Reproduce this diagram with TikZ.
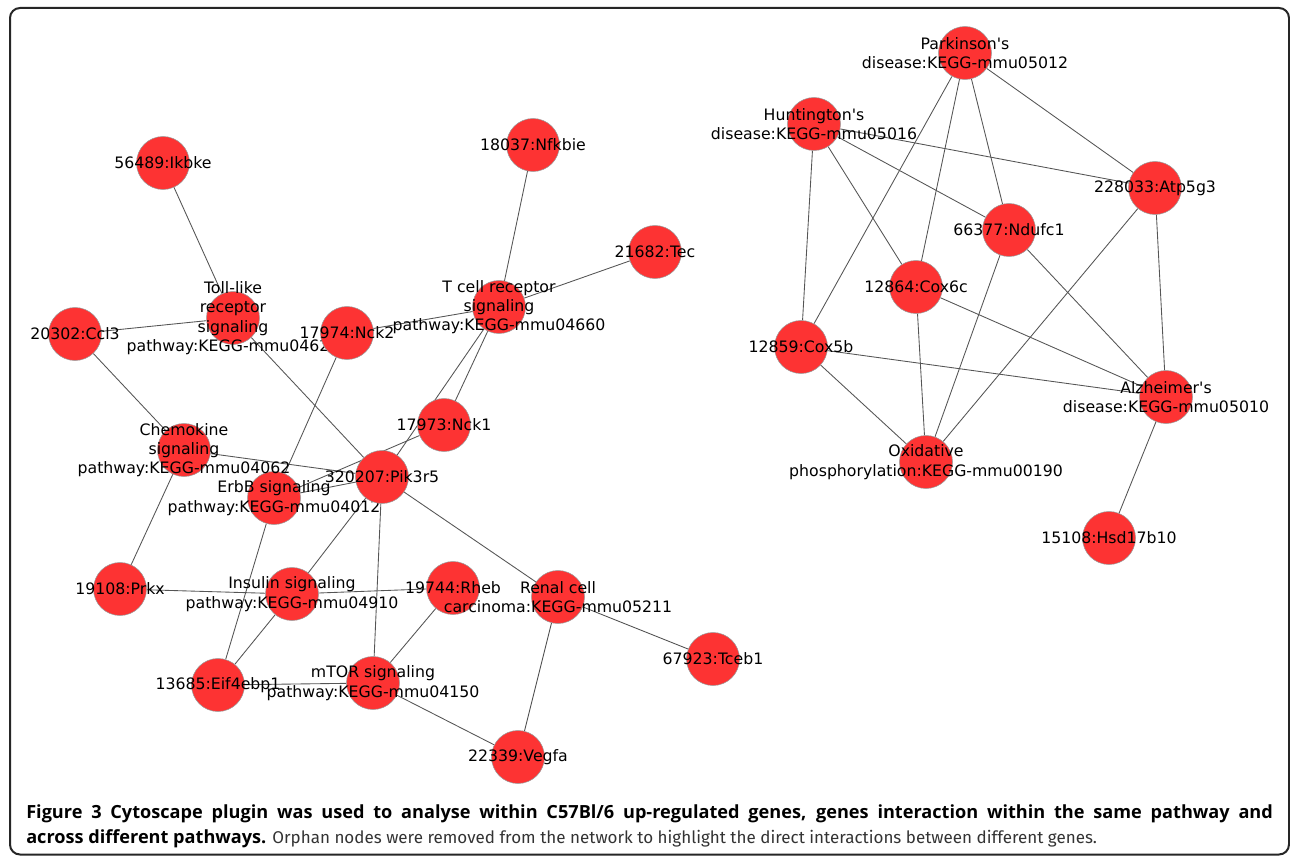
\documentclass[tikz,border=0pt]{standalone}
\usepackage{fontspec}
\newfontfamily\lblfont{DejaVu Sans}
\newfontfamily\capfont{Fira Sans}
\newfontfamily\capbold{Open Sans}
\pgfdeclarelayer{edges}
\pgfsetlayers{edges,main}
\definecolor{nodered}{RGB}{253,51,51}
\definecolor{edgegray}{RGB}{85,85,85}
\tikzset{
  gene/.style={circle, fill=nodered, draw=black!40, line width=0.4pt, minimum size=39.75pt, inner sep=0pt},
  lbl/.style={font=\lblfont\fontsize{11.8pt}{14.5pt}\selectfont, align=center, inner sep=0pt, text=black},
  link/.style={draw=edgegray, line width=0.65pt},
  frame/.style={draw=black!85, line width=1.5pt, rounded corners=7.5pt},
  captext/.style={font=\capfont\fontsize{12.75pt}{15pt}\selectfont, anchor=base west, inner sep=0pt},
}
\newcommand\capbf[1]{{\capbold\bfseries\fontsize{13.6pt}{15pt}\selectfont #1}}
\begin{document}
\begin{tikzpicture}[x=0.75pt, y=-0.75pt]
\useasboundingbox (0,0) rectangle (1290,856);
\draw[frame] (10,8) rectangle (1289,854.5);

% ---- left network ----
\node[gene] (ikbke) at (163,163) {};
\node[lbl] (ikbke-l) at (ikbke) {56489:Ikbke};
\node[gene] (toll) at (233,318) {};
\node[lbl] (toll-l) at (toll) {Toll-like\\receptor\\signaling\\pathway:KEGG-mmu04620};
\node[gene] (ccl3) at (75,334) {};
\node[lbl] (ccl3-l) at (ccl3) {20302:Ccl3};
\node[gene] (nck2) at (347,333) {};
\node[lbl] (nck2-l) at (nck2) {17974:Nck2};
\node[gene] (nfkbie) at (533,145) {};
\node[lbl] (nfkbie-l) at (nfkbie) {18037:Nfkbie};
\node[gene] (tec) at (655,252) {};
\node[lbl] (tec-l) at (tec) {21682:Tec};
\node[gene] (tcell) at (499,307) {};
\node[lbl] (tcell-l) at (tcell) {T cell receptor\\signaling\\pathway:KEGG-mmu04660};
\node[gene] (nck1) at (444,425) {};
\node[lbl] (nck1-l) at (nck1) {17973:Nck1};
\node[gene] (erbb) at (274,498) {};
\node[lbl] (erbb-l) at (erbb) {ErbB signaling\\pathway:KEGG-mmu04012};
\node[gene] (chemo) at (184,450) {};
\node[lbl] (chemo-l) at (chemo) {Chemokine\\signaling\\pathway:KEGG-mmu04062};
\node[gene] (pik) at (382,477) {};
\node[lbl] (pik-l) at (pik) {320207:Pik3r5};
\node[gene] (prkx) at (120,589) {};
\node[lbl] (prkx-l) at (prkx) {19108:Prkx};
\node[gene] (insulin) at (292,594) {};
\node[lbl] (insulin-l) at (insulin) {Insulin signaling\\pathway:KEGG-mmu04910};
\node[gene] (rheb) at (453,588) {};
\node[lbl] (rheb-l) at (rheb) {19744:Rheb};
\node[gene] (eif) at (218,685) {};
\node[lbl] (eif-l) at (eif) {13685:Eif4ebp1};
\node[gene] (mtor) at (373,683) {};
\node[lbl] (mtor-l) at (mtor) {mTOR signaling\\pathway:KEGG-mmu04150};
\node[gene] (renal) at (558,597) {};
\node[lbl] (renal-l) at (renal) {Renal cell\\carcinoma:KEGG-mmu05211};
\node[gene] (tceb) at (713,659) {};
\node[lbl] (tceb-l) at (tceb) {67923:Tceb1};
\node[gene] (vegfa) at (518,757) {};
\node[lbl] (vegfa-l) at (vegfa) {22339:Vegfa};

% ---- right network ----
\node[gene] (park) at (965,53) {};
\node[lbl] (park-l) at (park) {Parkinson's\\disease:KEGG-mmu05012};
\node[gene] (hunt) at (814,124) {};
\node[lbl] (hunt-l) at (hunt) {Huntington's\\disease:KEGG-mmu05016};
\node[gene] (atp) at (1155,188) {};
\node[lbl] (atp-l) at (atp) {228033:Atp5g3};
\node[gene] (nduf) at (1009,230) {};
\node[lbl] (nduf-l) at (nduf) {66377:Ndufc1};
\node[gene] (cox6c) at (916,287) {};
\node[lbl] (cox6c-l) at (cox6c) {12864:Cox6c};
\node[gene] (cox5b) at (801,347) {};
\node[lbl] (cox5b-l) at (cox5b) {12859:Cox5b};
\node[gene] (alz) at (1166,397) {};
\node[lbl] (alz-l) at (alz) {Alzheimer's\\disease:KEGG-mmu05010};
\node[gene] (oxi) at (926,462) {};
\node[lbl] (oxi-l) at (oxi) {Oxidative\\phosphorylation:KEGG-mmu00190};
\node[gene] (hsd) at (1109,538) {};
\node[lbl] (hsd-l) at (hsd) {15108:Hsd17b10};

% ---- connectors (behind nodes) ----
\begin{pgfonlayer}{edges}
\foreach \a/\b in {ikbke/toll, ccl3/toll, toll/pik, ccl3/chemo, nck2/tcell, nck2/erbb,
  nfkbie/tcell, tec/tcell, tcell/nck1, tcell/pik, nck1/erbb, chemo/pik, erbb/pik,
  chemo/prkx, prkx/insulin, insulin/rheb, erbb/eif, insulin/eif, eif/mtor, pik/mtor,
  mtor/rheb, mtor/vegfa, pik/renal, renal/tceb, renal/vegfa, pik/insulin,
  park/atp, park/nduf, park/cox6c, park/cox5b, hunt/atp, hunt/nduf, hunt/cox6c,
  hunt/cox5b, atp/oxi, atp/alz, nduf/oxi, nduf/alz, cox6c/oxi, cox6c/alz,
  cox5b/alz, cox5b/oxi, alz/hsd}
  \draw[link] (\a) -- (\b);
\end{pgfonlayer}

% ---- caption ----
\node[captext] (cap1) at (26,818) {\capbf{\makebox[935pt][s]{Figure 3 Cytoscape plugin was used to analyse within C57Bl/6 up-regulated genes, genes interaction within the same pathway and}}};
\node[captext] (cap2) at (26,843) {\capbf{across different pathways.} \textcolor{black!80}{Orphan nodes were removed from the network to highlight the direct interactions between different genes.}};
\end{tikzpicture}
\end{document}
